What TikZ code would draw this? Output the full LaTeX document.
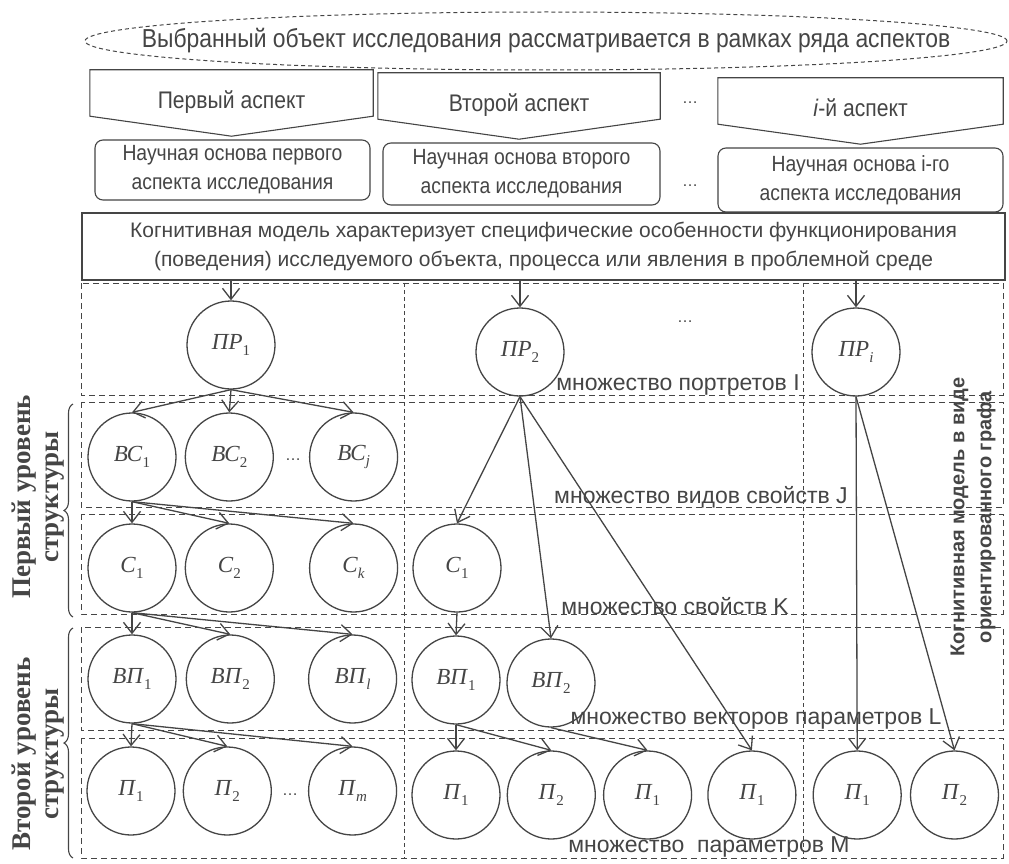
\documentclass[tikz,border=0pt]{standalone}
\usepackage{fontspec}
\setmainfont{Liberation Serif}
\newfontfamily\arial{Liberation Sans}
\newfontfamily\arialn{Liberation Sans}[FakeStretch=0.88]
\usetikzlibrary{positioning,shapes.geometric,arrows.meta,decorations.pathreplacing}
\definecolor{ink}{HTML}{454545}
\newcommand{\lbl}[2]{\textit{#1}\raisebox{-0.5ex}{\fontsize{15}{15}\selectfont #2}}

\begin{document}
\begin{tikzpicture}[x=1pt, y=-1pt, color=ink,
				circ/.style={circle, draw, line width=1.3pt, minimum size=88pt, inner sep=0pt, font=\fontsize{23}{25}\selectfont},
				edge/.style={line width=1.3pt, -{Straight Barb[length=11pt, width=17pt]}},
				aspect/.style={minimum width=283pt, minimum height=46pt, inner sep=0pt, text height=35pt, text depth=4pt, font=\arialn\fontsize{24}{26}\selectfont},
				basis/.style={draw, rounded corners=8pt, line width=1.1pt, minimum width=277pt, minimum height=62pt, inner sep=0pt, align=center, font=\arialn\fontsize{22}{29}\selectfont},
				setlbl/.style={font=\arial\fontsize{23}{25}\selectfont},
				dots/.style={font=\arial\fontsize{16}{18}\selectfont},
				lvl/.style={rotate=90, align=center, font=\bfseries\fontsize{27}{28}\selectfont},
				row/.style={line width=1pt, dash pattern=on 6pt off 4pt},
				colsep/.style={line width=0.8pt, dash pattern=on 4pt off 3pt}
				]
				\path[use as bounding box, fill=white] (0,0) rectangle (1009,864);
				
				% goal and aspects
				\node[ellipse, draw, line width=1pt, dash pattern=on 4pt off 3pt, minimum width=922pt, minimum height=58pt] (goal) at (546,41) {};
				\node[font=\arialn\fontsize{26}{28}\selectfont] (goaltext) at (goal) {Выбранный объект исследования рассматривается в рамках ряда аспектов};
				\node[aspect] (a1) at (231.5,93) {Первый аспект};
				\node[aspect, minimum width=282pt] (a2) at (519,96) {Второй аспект};
				\node[aspect, minimum width=285pt] (a3) at (860.5,101) {\textit{i}-й аспект};
				\foreach \a in {a1,a2,a3}
					\draw[line width=1.1pt] (\a.north west) -- (\a.north east) -- (\a.south east) -- ([yshift=-20pt]\a.south) -- (\a.south west) -- cycle;
				\node[dots] (adots) at (690,103) {\ldots};
				
				\node[basis, minimum width=275pt, minimum height=60pt] (b1) at (232.5,170) {Научная основа первого\\аспекта исследования};
				\node[basis] (b2) at (521.5,174) {Научная основа второго\\аспекта исследования};
				\node[basis, minimum width=285pt, minimum height=64pt] (b3) at (860.5,180) {Научная основа i-го\\аспекта исследования};
				\node[dots] (bdots) at (690,186) {\ldots};
				
				\node[draw, line width=1.1pt, minimum width=923pt, minimum height=67pt, inner sep=0pt, align=center, font=\arial\fontsize{21}{29}\selectfont] (cog) at (543.5,246.5) {Когнитивная модель характеризует специфические особенности функционирования\\(поведения) исследуемого объекта, процесса или явления в проблемной среде};
				
				% rows and columns
				\foreach \t/\b in {283/395, 402/507, 514/614, 627/730, 738/858}
					\draw[row] (81,\t) rectangle (1003,\b);
				\foreach \x in {404,803}
					\draw[colsep] (\x,283) -- (\x,858);
				
				\draw[line width=1.1pt, decorate, decoration={brace, amplitude=9pt}] (73,617) -- (73,404);
				\draw[line width=1.1pt, decorate, decoration={brace, amplitude=9pt}] (73,858) -- (73,628);
				\node[lvl] (lvl1) at (38,497) {Первый уровень\\структуры};
				\node[lvl] (lvl2) at (38,754) {Второй уровень\\структуры};
				\node[rotate=90, align=center, font=\arial\bfseries\fontsize{20}{27}\selectfont] (graph) at (973,517) {Когнитивная модель в виде\\ориентированного графа};
				
				% portraits
				\node[circ] (pr1) at (231,345) {\lbl{ПР}{1}};
				\node[circ] (pr2) at (520,352) {\lbl{ПР}{2}};
				\node[circ] (pri) at (856,352) {\lbl{ПР}{\textit{i}}};
				\node[dots] (prdots) at (685,322) {\ldots};
				
				% kinds of properties
				\node[circ] (bc1) at (132,457) {\lbl{ВС}{1}};
				\node[circ, right=8pt of bc1] (bc2) {\lbl{ВС}{2}};
				\node[circ, right=35pt of bc2] (bcj) {\lbl{ВС}{\textit{j}}};
				\node[dots] (bcdots) at (293,460) {\ldots};
				
				% properties
				\node[circ] (c1) at (132,568) {\lbl{С}{1}};
				\node[circ, right=8pt of c1] (c2) {\lbl{С}{2}};
				\node[circ, right=35pt of c2] (ck) {\lbl{С}{\textit{k}}};
				\node[circ] (c1b) at (457,568) {\lbl{С}{1}};
				
				% vectors of parameters
				\node[circ] (vp1) at (132,679) {\lbl{ВП}{1}};
				\node[circ, right=9pt of vp1] (vp2) {\lbl{ВП}{2}};
				\node[circ, right=33pt of vp2] (vpl) {\lbl{ВП}{\textit{l}}};
				\node[circ] (vp1b) at (456,680) {\lbl{ВП}{1}};
				\node[circ] (vp2b) at (551,683) {\lbl{ВП}{2}};
				
				% parameters
				\node[circ] (p1) at (131,791) {\lbl{П}{1}};
				\node[circ, right=7pt of p1] (p2) {\lbl{П}{2}};
				\node[circ, right=36pt of p2] (pm) {\lbl{П}{\textit{m}}};
				\node[dots] (pdots) at (290,795) {\ldots};
				\node[circ] (p1b) at (456,795) {\lbl{П}{1}};
				\node[circ, right=6pt of p1b] (p2b) {\lbl{П}{2}};
				\node[circ, right=7pt of p2b] (p1c) {\lbl{П}{1}};
				\node[circ, right=15pt of p1c] (p1d) {\lbl{П}{1}};
				\node[circ, right=16pt of p1d] (p1e) {\lbl{П}{1}};
				\node[circ, right=8pt of p1e] (p2e) {\lbl{П}{2}};
				
				% set labels
				\node[setlbl] (setI) at (678,385) {множество портретов I};
				\node[setlbl] (setJ) at (701,497) {множество видов свойств J};
				\node[setlbl] (setK) at (675,606) {множество свойств K};
				\node[setlbl] (setL) at (756,719) {множество векторов параметров L};
				\node[setlbl] (setM) at (709,847) {множество~ параметров M};
				
				% connections
				\foreach \p in {pr1,pr2,pri}
					\draw[edge] (cog.south -| \p) -- (\p.north);
				\foreach \s/\t in {pr1/bc1, pr1/bc2, pr1/bcj, bc1/c1, bc1/c2, bc1/ck, c1/vp1, c1/vp2, c1/vpl,
						vp1/p1, vp1/p2, vp1/pm, pr2/c1b, pr2/vp2b, pr2/p1d, c1b/vp1b, vp1b/p1b, vp1b/p2b,
						vp2b/p1c, pri/p1e, pri/p2e}
					\draw[edge] (\s.south) -- (\t.north);
			\end{tikzpicture}
\end{document}
